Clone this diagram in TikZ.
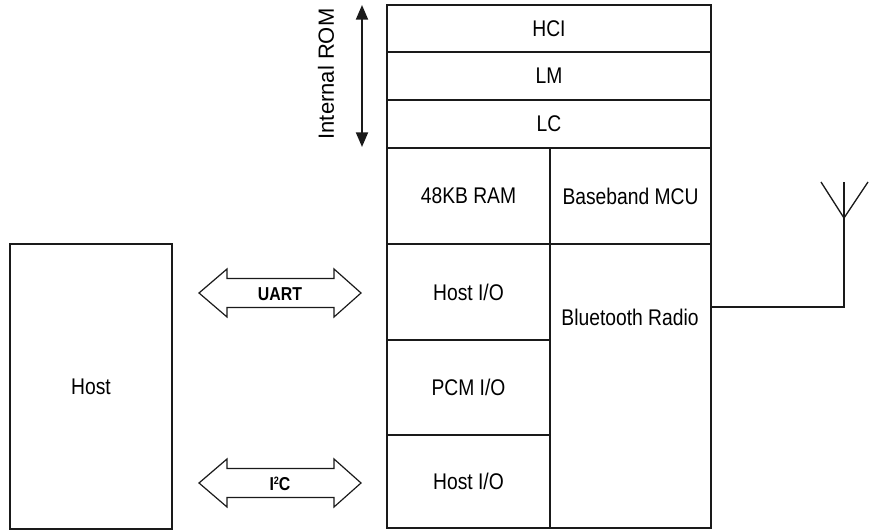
\documentclass[tikz,border=0pt]{standalone}
\usepackage{fontspec}
\setmainfont{Liberation Sans}
\newfontfamily\narrowfont[FakeStretch=0.85]{Liberation Sans}
\usetikzlibrary{arrows.meta}
\definecolor{ink}{HTML}{1A1A1A}
\newcommand\cellbox[6]{%
  \node[cell, minimum width={(#4-#2)*0.75pt}, minimum height={(#5-#3)*0.75pt}]
    (#1) at ({(#2+#4)/2},{(#3+#5)/2}) {#6};}
\begin{document}
\begin{tikzpicture}[x=0.75pt,y=-0.75pt,
  cell/.style={draw=ink, line width=0.9pt, inner sep=0pt, font=\narrowfont\fontsize{17}{19}\selectfont, text=black},
  lbl/.style={font=\narrowfont\fontsize{17}{19}\selectfont, text=black, inner sep=0pt},
  blk/.style={draw=ink, line width=0.9pt, fill=white},
  blklbl/.style={font=\narrowfont\bfseries\fontsize{14}{16}\selectfont, text=black, inner sep=0pt},
  wire/.style={draw=ink, line width=1pt}]
\useasboundingbox (0,0) rectangle (883,530);
% main stack
\cellbox{hci}{387}{5}{711}{52}{HCI}
\cellbox{lm}{387}{52}{711}{100}{LM}
\cellbox{lc}{387}{100}{711}{148}{LC}
\cellbox{ram}{387}{148}{550}{244}{48KB RAM}
\cellbox{mcu}{550}{148}{711}{244}{Baseband MCU}
\cellbox{hostioa}{387}{244}{550}{340}{Host I/O}
\cellbox{pcm}{387}{340}{550}{435}{PCM I/O}
\cellbox{hostiob}{387}{435}{550}{528}{Host I/O}
\cellbox{radio}{550}{244}{711}{528}{}
\node[lbl] (radiolbl) at (630,317) {Bluetooth Radio};
% host
\cellbox{host}{10}{244}{172}{529}{Host}
% internal ROM arrow
\coordinate (romtop) at (362,5);
\coordinate (rombot) at (362,147);
\draw[ink, line width=1.4pt, {Triangle[length=11pt,width=9pt]}-{Triangle[length=11pt,width=9pt]}] (romtop) -- (rombot);
\node[rotate=90, font=\fontsize{16.5}{19}\selectfont, text=black, inner sep=0pt] (romlbl) at (326,74) {Internal ROM};
% UART block arrow
\draw[blk] (199,293) -- (227,269) -- (227,278.5) -- (334,278.5) -- (334,269) -- (361,293)
  -- (334,317) -- (334,307.5) -- (227,307.5) -- (227,317) -- cycle;
\node[blklbl] (uart) at (280,294) {UART};
% I2C block arrow
\draw[blk] (199,483) -- (227,459) -- (227,468.5) -- (334,468.5) -- (334,459) -- (361,483)
  -- (334,507) -- (334,497.5) -- (227,497.5) -- (227,507) -- cycle;
\node[blklbl] (iic) at (280,484) {I\raisebox{0.55ex}{\fontsize{8}{9}\selectfont 2}C};
% antenna
\coordinate (antbase) at (844,307);
\coordinate (antv) at (844,218);
\coordinate (antl) at (821,182);
\coordinate (antr) at (868,182);
\coordinate (antc) at (844,182);
\draw[wire] (radio.east |- antbase) -- (antbase) -- (antv);
\draw[wire] (antl) -- (antv) -- (antr);
\draw[wire] (antv) -- (antc);
\end{tikzpicture}
\end{document}
